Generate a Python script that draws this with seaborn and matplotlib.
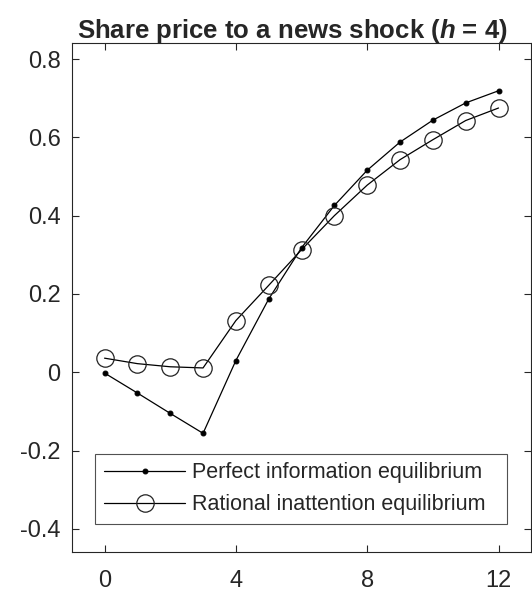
import numpy as np
import pandas as pd
import matplotlib
matplotlib.use("Agg")
import matplotlib.pyplot as plt
import seaborn as sns

horizon = list(range(13))
perfect_info = [-0.002, -0.053, -0.105, -0.156, 0.030, 0.187, 0.318, 0.426,
                0.516, 0.588, 0.644, 0.688, 0.719]
rational_inatt = [0.036, 0.022, 0.014, 0.011, 0.132, 0.222, 0.313, 0.400,
                  0.478, 0.543, 0.594, 0.643, 0.675]
labels = ["Perfect information equilibrium", "Rational inattention equilibrium"]
xticks = [0, 4, 8, 12]
yticks = [-0.4, -0.2, 0, 0.2, 0.4, 0.6, 0.8]
ytick_labels = ["-0.4", "-0.2", "0", "0.2", "0.4", "0.6", "0.8"]

sns.set_theme(style="white")
plt.rcParams["font.family"] = ["Liberation Sans", "DejaVu Sans"]
plt.rcParams["mathtext.fontset"] = "custom"
plt.rcParams["mathtext.it"] = "Liberation Sans:italic:bold"
plt.rcParams["mathtext.rm"] = "Liberation Sans:bold"

df = pd.DataFrame({
    "h": horizon * 2,
    "value": perfect_info + rational_inatt,
    "series": [labels[0]] * 13 + [labels[1]] * 13,
})

fig = plt.figure(figsize=(5.32, 5.92), dpi=100)
ax = fig.add_axes([0.1348, 0.067, 0.864, 0.861])

sns.lineplot(data=df[df.series == labels[0]], x="h", y="value", ax=ax,
             color="black", lw=0.9, marker="o", markersize=3.5,
             markerfacecolor="black", markeredgecolor="black",
             label=labels[0])
sns.lineplot(data=df[df.series == labels[1]], x="h", y="value", ax=ax,
             color="black", lw=0.9, marker="o", markersize=12.5,
             markerfacecolor="none", markeredgecolor="#222222",
             markeredgewidth=0.9, label=labels[1])

ax.set_xlim(-1, 13)
ax.set_ylim(-0.46, 0.842)
ax.set_xticks(xticks)
ax.set_xticklabels([str(t) for t in xticks])
ax.set_yticks(yticks)
ax.set_yticklabels(ytick_labels)
ax.set_xlabel("")
ax.set_ylabel("")
ax.tick_params(direction="in", length=5, width=0.8, color="#262626",
               top=True, right=True, bottom=True, left=True,
               labelsize=17, labelcolor="#262626")
ax.tick_params(axis="x", pad=13)
ax.tick_params(axis="y", pad=8)
for s in ax.spines.values():
    s.set_color("#262626")
    s.set_linewidth(0.8)

ax.set_title("Share price to a news shock ($h$ = 4)", fontsize=18.5,
             fontweight="bold", pad=3, x=0.479)

leg = ax.legend(loc="lower left", bbox_to_anchor=(0.0507, 0.0555, 0.896, 0.1),
                mode="expand", borderaxespad=0, fontsize=15.5, frameon=True,
                fancybox=False, edgecolor="#262626", handlelength=3.8,
                borderpad=0.4, labelspacing=0.52, handletextpad=0.3)
leg.get_frame().set_linewidth(0.8)

fig.savefig("out.png", dpi=100)
